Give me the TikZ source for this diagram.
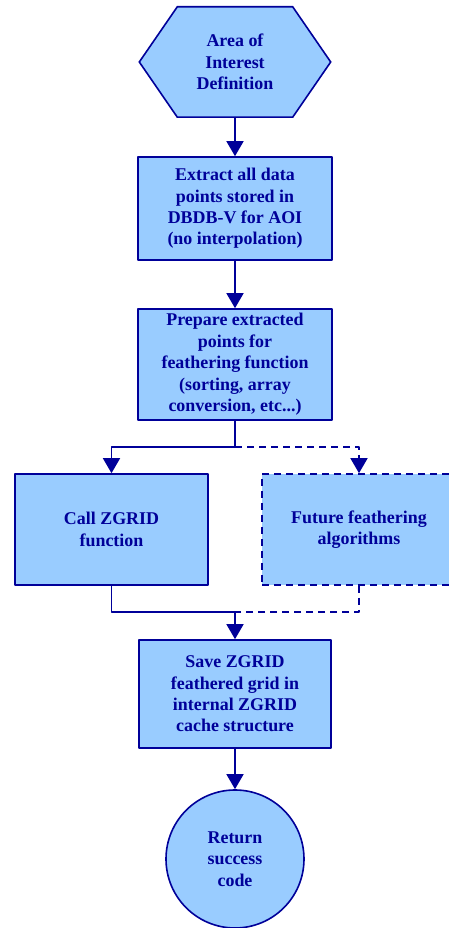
\documentclass[tikz,border=0pt]{standalone}
\usepackage{fontspec}
\setmainfont{Liberation Serif}
\usetikzlibrary{arrows.meta,backgrounds}
\definecolor{flowblue}{RGB}{0,0,153}
\definecolor{flowfill}{RGB}{153,204,255}
\tikzset{
  flowtext/.style={text=flowblue,font=\bfseries\fontsize{18}{21.5}\selectfont,align=center,inner sep=0pt},
  stepbox/.style={flowtext,draw=flowblue,line width=1.6bp,fill=flowfill,minimum width=194bp},
  futurebox/.style={stepbox,dash pattern=on 7bp off 5bp},
  endcircle/.style={flowtext,circle,draw=flowblue,line width=1.6bp,fill=flowfill,minimum size=138bp},
  link/.style={flowblue,line width=1.6bp},
  futurelink/.style={link,dash pattern=on 7bp off 5bp},
}
\begin{document}
\begin{tikzpicture}[>={Triangle[width=17bp,length=15bp]},line join=bevel,]
\useasboundingbox (0bp,0bp) rectangle (449bp,928bp);
%%
\node (aoi) at (235bp,866bp) [flowtext,minimum width=191bp,minimum height=110bp] {Area of\\Interest\\Definition};
  \node (extract) at (235bp,719.5bp) [stepbox,minimum height=103bp] {Extract all data\\points stored in\\DBDB-V for AOI\\(no interpolation)};
  \node (prepare) at (235bp,563.5bp) [stepbox,minimum height=111bp] {Prepare extracted\\points for\\feathering function\\(sorting, array\\conversion, etc...)};
  \node (zgrid) at (111.5bp,398.5bp) [stepbox,minimum width=193bp,minimum height=111bp] {Call ZGRID\\function};
  \node (future) at (359bp,398.5bp) [futurebox,minimum height=111bp] {Future feathering\\algorithms};
  \node (save) at (235bp,234bp) [stepbox,minimum width=192bp,minimum height=108bp] {Save ZGRID\\feathered grid in\\internal ZGRID\\cache structure};
  \node (ret) at (235bp,69bp) [endcircle] {Return\\success\\code};
  \coordinate (split) at (235bp,481bp);
  \coordinate (merge) at (235bp,316bp);
%
\begin{scope}[on background layer]
  \draw [link,fill=flowfill] ([xshift=38bp]aoi.north west) -- ([xshift=-38bp]aoi.north east) -- (aoi.east) -- ([xshift=-38bp]aoi.south east) -- ([xshift=38bp]aoi.south west) -- (aoi.west) -- cycle;
\end{scope}
%
  \draw [link,->] (aoi) -- (extract);
  \draw [link,->] (extract) -- (prepare);
  \draw [link] (prepare.south) -- (split);
  \draw [link,->] (split) -| (zgrid.north);
  \draw [futurelink,->] (split) -| (future.north);
  \draw [link] (zgrid.south) |- (merge);
  \draw [futurelink] (future.south) |- (merge);
  \draw [link,->] (merge) -- (save.north);
  \draw [link,->] (save) -- (ret);
%
\end{tikzpicture}
\end{document}
